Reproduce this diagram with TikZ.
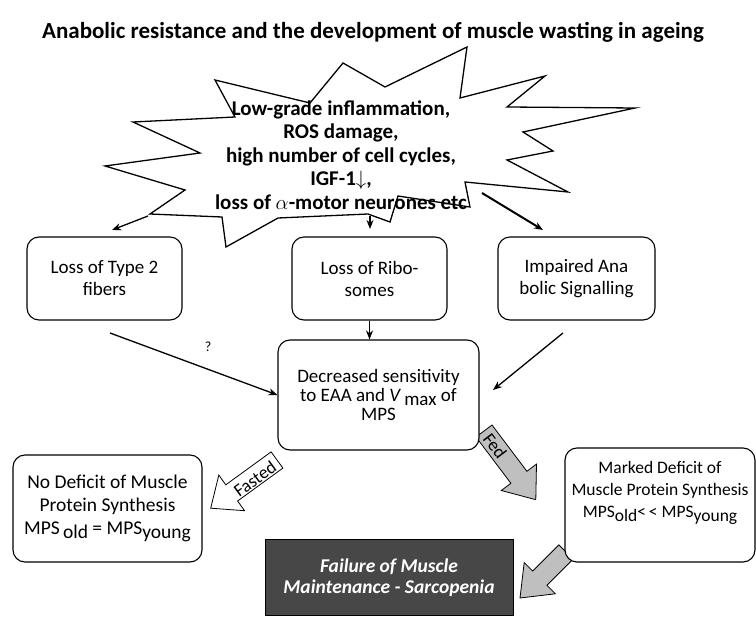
\documentclass[tikz,border=0pt]{standalone}
\usepackage{fontspec}
\setmainfont{Carlito}
\usepackage{tikz}
\usetikzlibrary{arrows.meta}

\begin{document}
\begin{tikzpicture}[x=1pt, y=-1pt, every node/.style={font=\fontsize{19}{22}\selectfont},
    box/.style={draw, fill=white, line width=1.1pt, rounded corners=12pt, align=center, inner sep=0pt},
    arr/.style={-{Stealth[length=9pt,width=7pt]}, line width=1.3pt},
    blk/.style={draw, line width=0.8pt, line join=miter}]
  \useasboundingbox (0,0) rectangle (756,617);
  \node[font=\fontsize{23}{26}\selectfont\bfseries, anchor=base] (title) at (373,39)
    {Anabolic resistance and the development of muscle wasting in ageing};
  \draw[line width=1.3pt, line join=miter, fill=white] (215,80) -- (310,103) -- (343,63) -- (385,87)
    -- (467,47) -- (460,98) -- (545,76) -- (507,107) -- (635,108) -- (523,132) -- (553,151)
    -- (507,160) -- (568,192) -- (465,182) -- (470,207) -- (398,196) -- (390,222) -- (368,214)
    -- (278,218) -- (226,247) -- (222,217) -- (150,214) -- (185,190) -- (105,166) -- (200,153)
    -- (133,122) -- (235,117) -- cycle;
  \node[font=\fontsize{21}{23.5}\selectfont\bfseries, align=center] (cause) at (341,155)
    {Low-grade inflammation,\\ROS damage,\\high number of cell cycles,\\IGF-1$\downarrow$,\\loss of $\alpha$-motor neurones etc};
  \coordinate (s1) at (148,216);
  \coordinate (t1) at (112,230);
  \coordinate (s2) at (370,216);
  \coordinate (t2) at (370,229);
  \coordinate (s3) at (482,193);
  \coordinate (t3) at (543,230);
  \draw[arr] (s1) -- (t1);
  \draw[arr] (s2) -- (t2);
  \draw[arr, line width=2pt] (s3) -- (t3);
  \draw[blk, fill=white] (271.1,451.9) -- (282.9,468.1) -- (237.6,501.0) -- (244.6,510.7) -- (210.7,508.2)
    -- (218.8,475.1) -- (225.8,484.8) -- cycle;
  \draw[blk, fill=gray!50] (476.0,437.0) -- (492.0,425.0) -- (526.9,471.3) -- (536.5,464.1) -- (535.8,499.7)
    -- (501.3,490.5) -- (510.9,483.3) -- cycle;
  \draw[blk, fill=gray!50] (558.9,544.9) -- (573.1,559.1) -- (546.9,585.3) -- (555.4,593.8) -- (520,598)
    -- (524.2,562.6) -- (532.7,571.1) -- cycle;
  \node[rotate=36, font=\fontsize{18}{20}\selectfont] (fastlbl) at (255,479) {Fasted};
  \node[rotate=-53, font=\fontsize{18}{20}\selectfont] (fedlbl) at (495,446) {Fed};
  \node[box, minimum width=155, minimum height=83] (fib) at (104.5,278.5) {Loss of Type 2\\fibers};
  \node[box, minimum width=155, minimum height=83] (ribo) at (369.5,278.5) {Loss of Ribo-\\somes};
  \node[box, minimum width=157, minimum height=83] (sig) at (576.5,278.5) {Impaired Ana\\bolic Signalling};
  \node[box, minimum width=201, minimum height=110, font=\fontsize{19}{19}\selectfont] (eaa) at (378.5,395)
    {Decreased sensitivity\\to EAA and \textit{V}\,\raisebox{-0.4ex}{max} of\\MPS};
  \node[box, minimum width=189, minimum height=107, font=\fontsize{19.5}{23}\selectfont] (nodef) at (107.5,508.5)
    {No Deficit of Muscle\\Protein Synthesis\\MPS\,\raisebox{-0.5ex}{old} = MPS\raisebox{-0.5ex}{young}};
  \node[box, minimum width=190, minimum height=114] (mark) at (660,505) {};
  \node[align=center, font=\fontsize{17.5}{22}\selectfont] (marktxt) at (660,493)
    {Marked Deficit of\\Muscle Protein Synthesis\\MPS\raisebox{-0.5ex}{old}<\,< MPS\raisebox{-0.5ex}{young}};
  \node[draw, line width=1pt, fill=black!72, text=white, minimum width=248, minimum height=76, align=center,
    font=\fontsize{19.5}{21}\selectfont\bfseries\itshape] (fail) at (389,578) {Failure of Muscle\\Maintenance - Sarcopenia};
  \node[font=\fontsize{14}{16}\selectfont] (q) at (208,347) {?};
  \coordinate (f1) at (110,333);
  \coordinate (g1) at (563,333);
  \coordinate (g2) at (493,390);
  \draw[arr] (ribo.south) -- (ribo.south |- eaa.north);
  \draw[arr] (f1) -- (eaa.west);
  \draw[arr] (g1) -- (g2);
\end{tikzpicture}
\end{document}
